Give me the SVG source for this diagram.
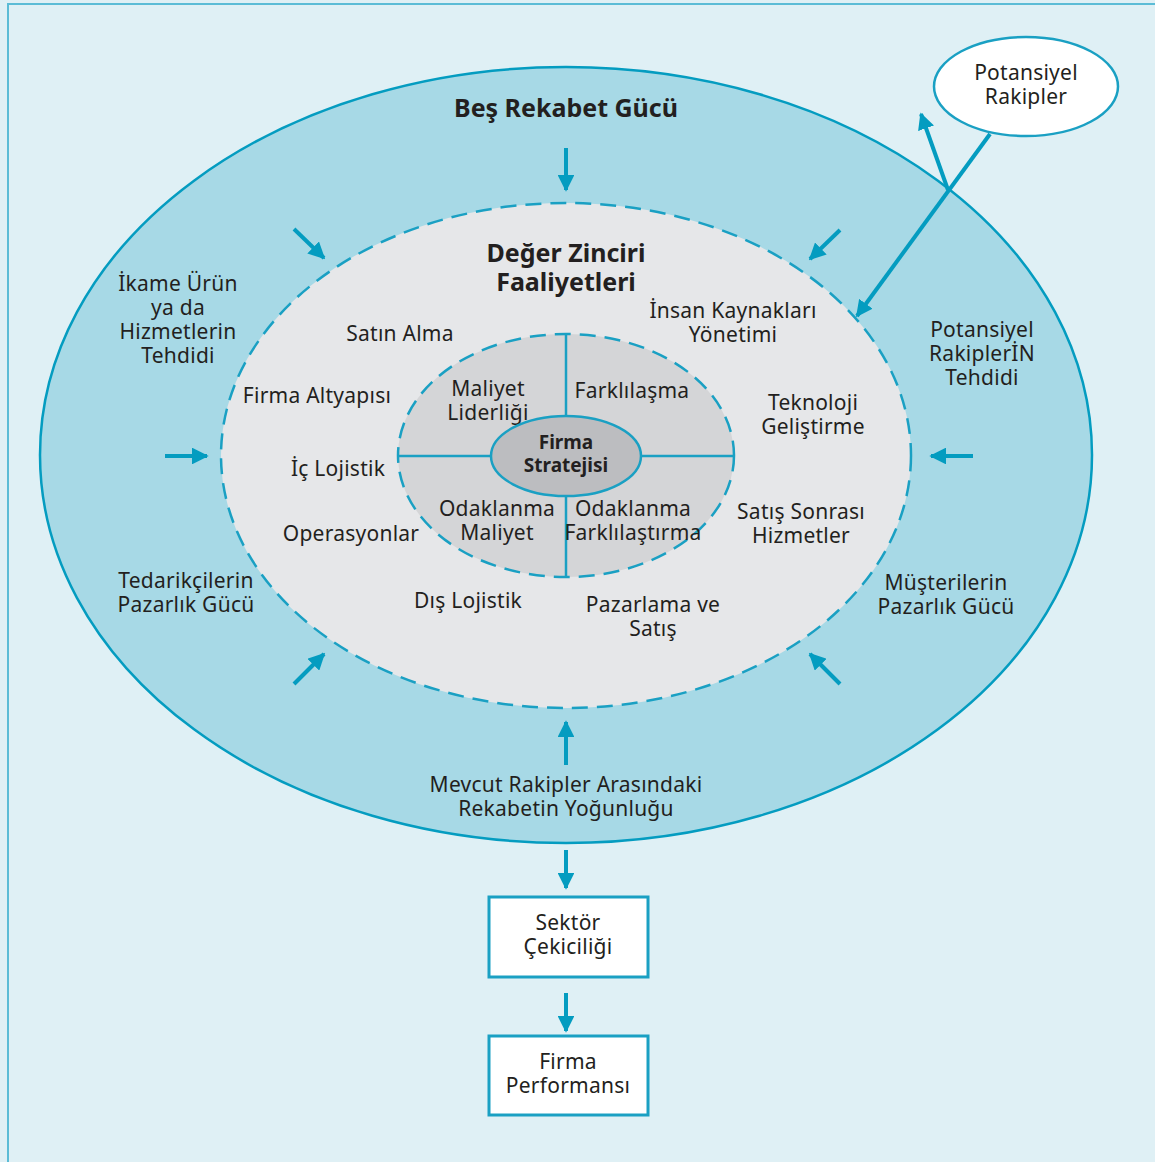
<svg xmlns="http://www.w3.org/2000/svg" width="1155" height="1162" viewBox="0 0 1155 1162">
  <defs>
    <marker id="head" viewBox="0 0 10 10" refX="9" refY="5" markerWidth="4.2" markerHeight="4.2" markerUnits="strokeWidth" orient="auto">
      <path d="M0,0 L10,5 L0,10 Z" fill="#049cc0"/>
    </marker>
    <style>
      text { font-family: "Noto Sans", "Open Sans", sans-serif; fill: #231f20; text-anchor: middle; }
      .lbl { font-size: 21px; letter-spacing: 0.25px; }
      .big { font-size: 25px; font-weight: bold; }
      .mid { font-size: 19px; font-weight: bold; }
      .arrow { stroke: #049cc0; stroke-width: 4; fill: none; marker-end: url(#head); }
      .dash { stroke: #1aa0c3; stroke-width: 2.5; stroke-dasharray: 16 9; }
      .line { stroke: #1aa0c3; stroke-width: 2.5; }
      .box { fill: #ffffff; stroke: #1aa0c3; stroke-width: 3; }
    </style>
  </defs>

  <!-- page background and frame -->
  <rect x="0" y="0" width="1155" height="1162" fill="#dff0f5"/>
  <path d="M8,1162 V4 H1155" fill="none" stroke="#5bbcd6" stroke-width="2"/>

  <!-- Five forces ring -->
  <g id="five-forces">
    <ellipse cx="566" cy="455" rx="526" ry="388" fill="#a7d9e6" stroke="#049cc0" stroke-width="2.5"/>
    <text class="big" x="566" y="117">Beş Rekabet Gücü</text>
    <text class="lbl" x="178" y="291">İkame Ürün<tspan x="178" dy="24">ya da</tspan><tspan x="178" dy="24">Hizmetlerin</tspan><tspan x="178" dy="24">Tehdidi</tspan></text>
    <text class="lbl" x="982" y="337">Potansiyel<tspan x="982" dy="24">RakiplerİN</tspan><tspan x="982" dy="24">Tehdidi</tspan></text>
    <text class="lbl" x="186" y="588">Tedarikçilerin<tspan x="186" dy="24">Pazarlık Gücü</tspan></text>
    <text class="lbl" x="946" y="590">Müşterilerin<tspan x="946" dy="24">Pazarlık Gücü</tspan></text>
    <text class="lbl" x="566" y="792">Mevcut Rakipler Arasındaki<tspan x="566" dy="24">Rekabetin Yoğunluğu</tspan></text>
  </g>

  <!-- Value chain ring -->
  <g id="value-chain">
    <ellipse class="dash" cx="566" cy="455.5" rx="345" ry="252.5" fill="#e6e7e9"/>
    <text class="big" x="566" y="262">Değer Zinciri<tspan x="566" dy="29">Faaliyetleri</tspan></text>
    <text class="lbl" x="400" y="341">Satın Alma</text>
    <text class="lbl" x="733" y="318">İnsan Kaynakları<tspan x="733" dy="24">Yönetimi</tspan></text>
    <text class="lbl" x="317" y="403">Firma Altyapısı</text>
    <text class="lbl" x="813" y="410">Teknoloji<tspan x="813" dy="24">Geliştirme</tspan></text>
    <text class="lbl" x="338" y="476">İç Lojistik</text>
    <text class="lbl" x="801" y="519">Satış Sonrası<tspan x="801" dy="24">Hizmetler</tspan></text>
    <text class="lbl" x="351" y="541">Operasyonlar</text>
    <text class="lbl" x="468" y="608">Dış Lojistik</text>
    <text class="lbl" x="653" y="612">Pazarlama ve<tspan x="653" dy="24">Satış</tspan></text>
  </g>

  <!-- Generic strategies -->
  <g id="strategies">
    <ellipse class="dash" cx="566" cy="455.5" rx="168" ry="121.5" fill="#d4d5d7" stroke-dasharray="14 8"/>
    <line class="line" x1="566" y1="334" x2="566" y2="416"/>
    <line class="line" x1="566" y1="496" x2="566" y2="577"/>
    <line class="line" x1="398" y1="456" x2="491" y2="456"/>
    <line class="line" x1="641" y1="456" x2="734" y2="456"/>
    <text class="lbl" x="488" y="396">Maliyet<tspan x="488" dy="24">Liderliği</tspan></text>
    <text class="lbl" x="632" y="398">Farklılaşma</text>
    <text class="lbl" x="497" y="516">Odaklanma<tspan x="497" dy="24">Maliyet</tspan></text>
    <text class="lbl" x="633" y="516">Odaklanma<tspan x="633" dy="24">Farklılaştırma</tspan></text>
  </g>

  <g id="firm-strategy">
    <ellipse cx="566" cy="456" rx="75" ry="40" fill="#bcbdc0" stroke="#1aa0c3" stroke-width="2.5"/>
    <text class="mid" x="566" y="449">Firma<tspan x="566" dy="23">Stratejisi</tspan></text>
  </g>

  <g id="potential-rivals">
    <ellipse cx="1026" cy="86.5" rx="92" ry="49.5" fill="#ffffff" stroke="#1aa0c3" stroke-width="2.5"/>
    <text class="lbl" x="1026" y="80">Potansiyel<tspan x="1026" dy="24">Rakipler</tspan></text>
  </g>

  <g id="industry-attractiveness">
    <rect class="box" x="489" y="897" width="159" height="80"/>
    <text class="lbl" x="568" y="930">Sektör<tspan x="568" dy="24">Çekiciliği</tspan></text>
  </g>

  <g id="firm-performance">
    <rect class="box" x="489" y="1036" width="159" height="79"/>
    <text class="lbl" x="568" y="1069">Firma<tspan x="568" dy="24">Performansı</tspan></text>
  </g>

  <!-- connectors -->
  <g id="connectors">
    <line class="arrow" x1="566" y1="148" x2="566" y2="190"/>
    <line class="arrow" x1="566" y1="765" x2="566" y2="722"/>
    <line class="arrow" x1="165" y1="456" x2="207" y2="456"/>
    <line class="arrow" x1="973" y1="456" x2="931" y2="456"/>
    <line class="arrow" x1="294" y1="229" x2="324" y2="258"/>
    <line class="arrow" x1="840" y1="230" x2="810" y2="259"/>
    <line class="arrow" x1="294" y1="684" x2="324" y2="654"/>
    <line class="arrow" x1="840" y1="684" x2="810" y2="654"/>
    <line class="arrow" x1="566" y1="850" x2="566" y2="888"/>
    <line class="arrow" x1="566" y1="993" x2="566" y2="1031"/>
    <line class="arrow" x1="990" y1="134" x2="857" y2="316"/>
    <line class="arrow" x1="948" y1="190" x2="921" y2="114"/>
  </g>
</svg>
